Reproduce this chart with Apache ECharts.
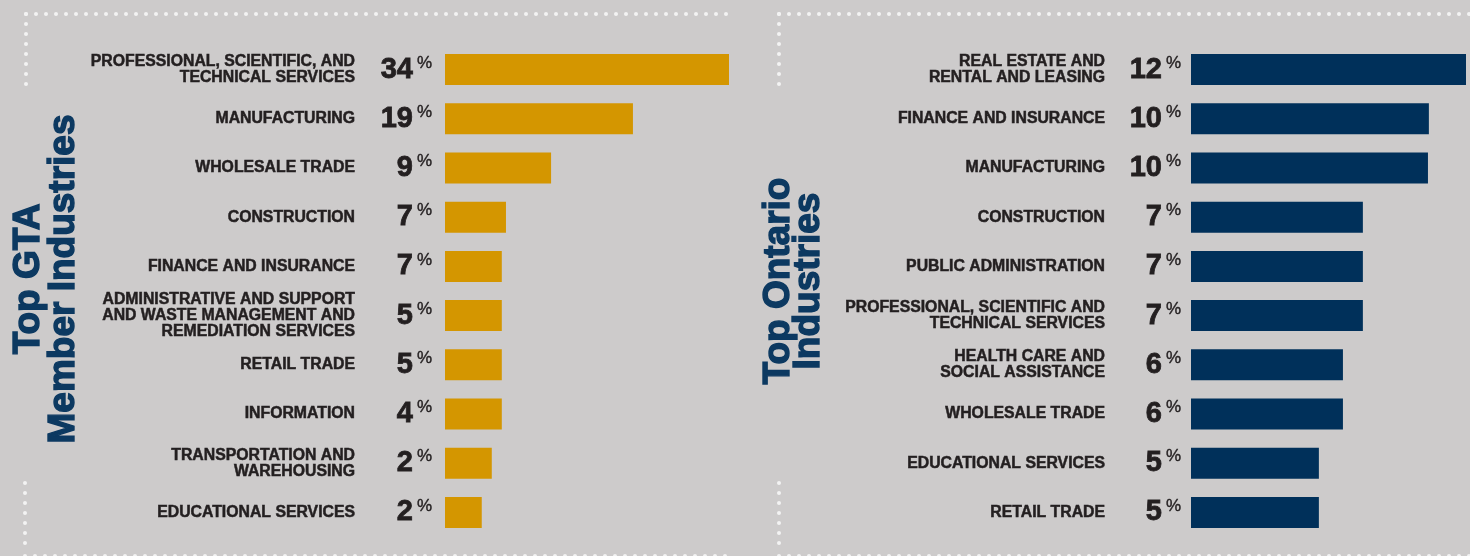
<!DOCTYPE html>
<html>
<head>
<meta charset="utf-8">
<script src="https://cdn.jsdelivr.net/npm/echarts@6/dist/echarts.min.js"></script>
<style>
html,body{margin:0;padding:0;background:#cdcbcb;}
#chart{width:1470px;height:556px;}
</style>
</head>
<body>
<div id="chart"></div>
<script>
// ---- data ----
const gtaCategories = [
  'PROFESSIONAL, SCIENTIFIC, AND\nTECHNICAL SERVICES',
  'MANUFACTURING',
  'WHOLESALE TRADE',
  'CONSTRUCTION',
  'FINANCE AND INSURANCE',
  'ADMINISTRATIVE AND SUPPORT\nAND WASTE MANAGEMENT AND\nREMEDIATION SERVICES',
  'RETAIL TRADE',
  'INFORMATION',
  'TRANSPORTATION AND\nWAREHOUSING',
  'EDUCATIONAL SERVICES'
];
const gtaPctLabels = [34, 19, 9, 7, 7, 5, 5, 4, 2, 2];
// bar lengths as drawn in the picture (in % units)
const gtaBarValues = [34, 22.5, 12.7, 7.3, 6.8, 6.8, 6.8, 6.8, 5.6, 4.4];

const ontCategories = [
  'REAL ESTATE AND\nRENTAL AND LEASING',
  'FINANCE AND INSURANCE',
  'MANUFACTURING',
  'CONSTRUCTION',
  'PUBLIC ADMINISTRATION',
  'PROFESSIONAL, SCIENTIFIC AND\nTECHNICAL SERVICES',
  'HEALTH CARE AND\nSOCIAL ASSISTANCE',
  'WHOLESALE TRADE',
  'EDUCATIONAL SERVICES',
  'RETAIL TRADE'
];
const ontPctLabels = [12, 10, 10, 7, 7, 7, 6, 6, 5, 5];
const ontBarValues = [12, 10.38, 10.34, 7.5, 7.5, 7.5, 6.63, 6.63, 5.58, 5.58];

const gtaTitle = 'Top GTA\nMember Industries';
const ontTitle = 'Top Ontario\nIndustries';

// ---- styles ----
const FONT = '"Liberation Sans", Arial, Helvetica, sans-serif';
const TEXT = '#231f20';
const NAVY_TITLE = '#0c3961';
const GOLD = '#d49600';
const NAVY = '#00305a';
const DOT = '#f3f3f3';

const pctRich = {
  n: {fontSize: 29, fontWeight: 'bold', color: TEXT, fontFamily: FONT, lineHeight: 30,
      textBorderColor: TEXT, textBorderWidth: 0.8},
  p: {fontSize: 17, fontWeight: 'normal', color: TEXT, fontFamily: FONT, verticalAlign: 'top', padding: [0, 0, 0, 4],
      textBorderColor: TEXT, textBorderWidth: 0.4}
};

const nameLabel = {
  fontSize: 15.8, lineHeight: 16, fontWeight: 'bold', color: TEXT, fontFamily: FONT, align: 'right',
  textBorderColor: TEXT, textBorderWidth: 0.5
};

function dotLine(x1, y1, x2, y2) {
  return {
    type: 'line', silent: true,
    shape: {x1, y1, x2, y2},
    style: {stroke: DOT, lineWidth: 4, lineDash: [0, 10], lineCap: 'round'}
  };
}

const chart = echarts.init(document.getElementById('chart'), null, {renderer: 'canvas'});

const option = {
  backgroundColor: '#cdcbcb',
  animation: false,
  grid: [
    {left: 445, top: 45, width: 284, height: 492},
    {left: 1191, top: 45, width: 275, height: 492}
  ],
  xAxis: [
    {gridIndex: 0, type: 'value', min: 0, max: 34, show: false},
    {gridIndex: 1, type: 'value', min: 0, max: 12, show: false}
  ],
  yAxis: [
    {
      gridIndex: 0, type: 'category', inverse: true, data: gtaCategories,
      axisLine: {show: false}, axisTick: {show: false}, splitLine: {show: false},
      axisLabel: Object.assign({margin: 90}, nameLabel)
    },
    {
      gridIndex: 1, type: 'category', inverse: true, data: ontCategories,
      axisLine: {show: false}, axisTick: {show: false}, splitLine: {show: false},
      axisLabel: Object.assign({margin: 86}, nameLabel)
    }
  ],
  series: [
    {
      type: 'bar', xAxisIndex: 0, yAxisIndex: 0, data: gtaBarValues,
      barWidth: 31, itemStyle: {color: GOLD},
      label: {
        show: true, position: 'left', distance: 13,
        formatter: p => '{n|' + gtaPctLabels[p.dataIndex] + '}{p|%}',
        rich: pctRich
      }
    },
    {
      type: 'bar', xAxisIndex: 1, yAxisIndex: 1, data: ontBarValues,
      barWidth: 31, itemStyle: {color: NAVY},
      label: {
        show: true, position: 'left', distance: 10,
        formatter: p => '{n|' + ontPctLabels[p.dataIndex] + '}{p|%}',
        rich: pctRich
      }
    }
  ],
  graphic: [
    dotLine(26, 14, 727, 14),
    dotLine(26, 14, 26, 88),
    dotLine(25, 483, 25, 548),
    dotLine(25, 556, 727, 556),
    dotLine(779, 14, 1470, 14),
    dotLine(779, 14, 779, 88),
    dotLine(779, 483, 779, 548),
    dotLine(779, 556, 1470, 556),
    {
      type: 'text', silent: true, x: 46, y: 279, rotation: Math.PI / 2,
      style: {text: gtaTitle, fill: NAVY_TITLE, font: 'bold 37px ' + FONT, align: 'center', verticalAlign: 'middle',
              lineHeight: 35, stroke: NAVY_TITLE, lineWidth: 1.4}
    },
    {
      type: 'text', silent: true, x: 794, y: 281, rotation: Math.PI / 2,
      style: {text: ontTitle, fill: NAVY_TITLE, font: 'bold 37px ' + FONT, align: 'center', verticalAlign: 'middle',
              lineHeight: 30, stroke: NAVY_TITLE, lineWidth: 1.4}
    }
  ]
};
chart.setOption(option);
</script>
</body>
</html>
